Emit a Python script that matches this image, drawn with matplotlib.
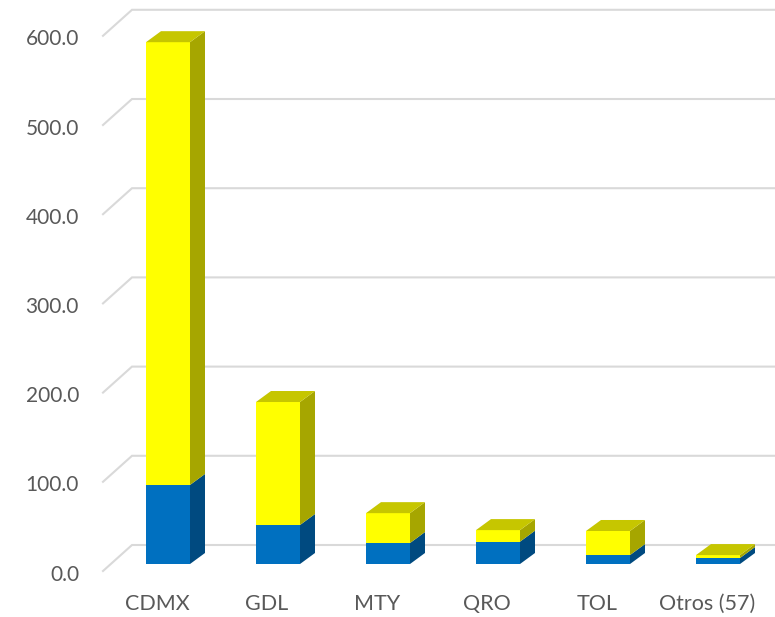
import matplotlib
matplotlib.use('Agg')
import matplotlib.pyplot as plt
from matplotlib.patches import Polygon

categories = ['CDMX', 'GDL', 'MTY', 'QRO', 'TOL', 'Otros (57)']
blue_vals = [88.6, 43.7, 23.5, 25, 10, 6.7]
yellow_vals = [496.4, 137.9, 33.5, 13, 27, 3.3]
y_ticks = [0, 100, 200, 300, 400, 500, 600]

W, H = 775, 617
PX_X = 110.0    # pixels per category
PX_Y = 0.892    # pixels per unit
X0, Y0 = 168.0, 564.0   # pixel of first bar centre, baseline

BAR_W = 44 / PX_X
DEPTH_X = 15 / PX_X
DEPTH_Y = 11 / PX_Y

GRID_FRONT_X = (103 - X0) / PX_X
GRID_BACK_X = (132 - X0) / PX_X
GRID_END_X = (775 - X0) / PX_X
GRID_FRONT_Y = -7 / PX_Y
GRID_BACK_Y = 19 / PX_Y

plt.rcParams['font.family'] = ['Lato', 'DejaVu Sans']

fig = plt.figure(figsize=(W / 100, H / 100), dpi=100)
ax = fig.add_axes([0, 0, 1, 1])
ax.set_xlim(-X0 / PX_X, (W - X0) / PX_X)
ax.set_ylim((Y0 - H) / PX_Y, Y0 / PX_Y)
ax.axis('off')

for v in y_ticks:
    ax.plot([GRID_FRONT_X, GRID_BACK_X, GRID_END_X],
            [v + GRID_FRONT_Y, v + GRID_BACK_Y, v + GRID_BACK_Y],
            color='#d9d9d9', lw=1.5, solid_joinstyle='miter', zorder=1)
    ax.text((79 - X0) / PX_X, v + GRID_FRONT_Y - 4, f'{v:.1f}', ha='right', va='center',
            fontsize=15, color='#595959')


def box(x, y0, y1, front, side, top=None):
    l, r = x - BAR_W / 2, x + BAR_W / 2
    ax.add_patch(Polygon([(r, y0), (r + DEPTH_X, y0 + DEPTH_Y), (r + DEPTH_X, y1 + DEPTH_Y), (r, y1)],
                         facecolor=side, edgecolor='none', zorder=3))
    ax.add_patch(Polygon([(l, y0), (r, y0), (r, y1), (l, y1)],
                         facecolor=front, edgecolor='none', zorder=3))
    if top:
        ax.add_patch(Polygon([(l, y1), (r, y1), (r + DEPTH_X, y1 + DEPTH_Y), (l + DEPTH_X, y1 + DEPTH_Y)],
                             facecolor=top, edgecolor='none', zorder=3))


for i, name in enumerate(categories):
    b = blue_vals[i]
    t = b + yellow_vals[i]
    box(i, 0, b, '#0070c0', '#004a80')
    box(i, b, t, '#ffff00', '#a6a600', '#c6c600')
    ax.text(i - 11 / PX_X, -40 / PX_Y, name, ha='center', va='center',
            fontsize=15.5, color='#595959')

fig.savefig('out.png', dpi=100)
